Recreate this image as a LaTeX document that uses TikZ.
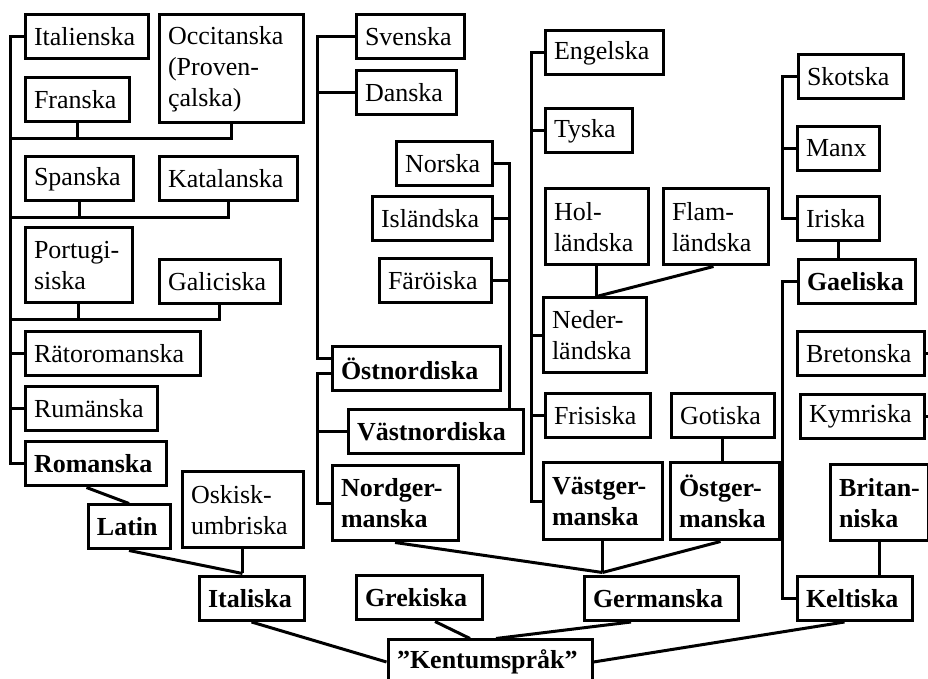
\documentclass[tikz,border=0pt]{standalone}
\usepackage{fontspec}
\setmainfont{Liberation Serif}
\hyphenpenalty=10000
\exhyphenpenalty=10000

\tikzset{
  langbox/.style 2 args={draw, line width=1.5pt, inner xsep=4.5pt, inner ysep=0pt,
    text width=#1, minimum height=#2, align=left, font=\fontsize{13}{15.5}\selectfont},
  stembox/.style 2 args={langbox={#1}{#2}, font=\fontsize{13}{15.5}\selectfont\bfseries},
  conn/.style={line width=1.5pt}
}

\begin{document}
\begin{tikzpicture}[x=0.5pt, y=-0.5pt]
                \useasboundingbox (0,0) rectangle (928,679);
                \clip (0,0) rectangle (928,679);

                % Romance languages
                \node[langbox={52.5pt}{22pt}] (ital) at (86.5,37) {Italienska};
                \node[langbox={63pt}{54pt}] (occ) at (231,69) {Occitanska\\(Proven-\\çalska)};
                \node[langbox={43pt}{22pt}] (fran) at (77,100) {Franska};
                \node[langbox={45pt}{22pt}] (span) at (79,179) {Spanska};
                \node[langbox={60pt}{22pt}] (kat) at (228,179) {Katalanska};
                \node[langbox={44.5pt}{37.5pt}] (port) at (78.5,265.5) {Portugi-\\siska};
                \node[langbox={51.5pt}{22pt}] (gal) at (219.5,282) {Galiciska};
                \node[langbox={78.5pt}{22pt}] (raeto) at (112.5,353.5) {Rätoromanska};
                \node[langbox={57pt}{22pt}] (ruman) at (91,408.5) {Rumänska};
                \node[stembox={61.5pt}{22pt}] (roman) at (95.5,464) {Romanska};
                \node[stembox={32pt}{22pt}] (latin) at (129,527) {Latin};
                \node[langbox={51.5pt}{38pt}] (osk) at (242.5,510) {Oskisk-\\umbriska};
                \node[stembox={43.5pt}{22pt}] (itali) at (251.5,598.5) {Italiska};

                \draw[conn] (ital.west) -- ++(-13,0) coordinate (rbar) |- (roman.west);
                \foreach \n in {raeto,ruman} \draw[conn] (\n.west) -- (\n.west -| rbar);
                \draw[conn] (occ.south) -- ++(0,14) coordinate (j1) -- (j1 -| rbar);
                \draw[conn] (fran.south) -- (fran.south |- j1);
                \draw[conn] (kat.south) -- ++(0,15) coordinate (j2) -- (j2 -| rbar);
                \draw[conn] (span.south) -- (span.south |- j2);
                \draw[conn] (gal.south) -- ++(0,14) coordinate (j3) -- (j3 -| rbar);
                \draw[conn] (port.south) -- (port.south |- j3);
                \draw[conn] (roman.south -| latin.west) -- (latin.north);
                \draw[conn] (osk.south) -- ++(0,24) coordinate (jit);
                \draw[conn] (latin.south) -- (jit);

                % North Germanic languages
                \node[langbox={45pt}{22pt}] (sven) at (410,37) {Svenska};
                \node[langbox={41pt}{22pt}] (dan) at (406,92.5) {Danska};
                \node[langbox={39pt}{22pt}] (nors) at (444,163.5) {Norska};
                \node[langbox={51pt}{22pt}] (isl) at (432,219) {Isländska};
                \node[langbox={47pt}{22pt}] (faro) at (435,280.5) {Färöiska};
                \node[stembox={75pt}{22pt}] (ostn) at (416,369) {Östnordiska};
                \node[stembox={78.5pt}{22pt}] (vastn) at (435.5,432) {Västnordiska};
                \node[stembox={54pt}{37.5pt}] (nordg) at (395,503.5) {Nordger-\\manska};
                \node[stembox={54pt}{22pt}] (grek) at (419,598) {Grekiska};

                \draw[conn] (sven.west) -- ++(-37,0) coordinate (nbar) |- ([yshift=5pt]ostn.west);
                \draw[conn] (dan.west) -- (dan.west -| nbar);
                \draw[conn] ([yshift=-2.5pt]ostn.west) -- ([yshift=-2.5pt]ostn.west -| nbar) |- (nordg.west);
                \draw[conn] (vastn.west) -- (vastn.west -| nbar);
                \draw[conn] (nors.east) -- ++(16,0) coordinate (wbar) -- (wbar |- vastn.north);
                \foreach \n in {isl,faro} \draw[conn] (\n.east) -- (\n.east -| wbar);

                % West and East Germanic languages
                \node[langbox={50pt}{22pt}] (eng) at (604,53) {Engelska};
                \node[langbox={34.5pt}{22pt}] (tysk) at (588.5,131) {Tyska};
                \node[langbox={42.5pt}{38pt}] (holl) at (596.5,227) {Hol-\\ländska};
                \node[langbox={43.5pt}{38pt}] (flam) at (715.5,227) {Flam-\\ländska};
                \node[langbox={42.5pt}{37.5pt}] (neder) at (594.5,335.5) {Neder-\\ländska};
                \node[langbox={43.5pt}{22pt}] (fris) at (597.5,416) {Frisiska};
                \node[langbox={42.5pt}{22pt}] (goti) at (722.5,416) {Gotiska};
                \node[stembox={50.5pt}{38.5pt}] (vastg) at (602.5,501.5) {Västger-\\manska};
                \node[stembox={45.5pt}{38.5pt}] (ostg) at (724.5,501.5) {Östger-\\manska};
                \node[stembox={68pt}{22pt}] (germ) at (661,598.5) {Germanska};

                \draw[conn] (eng.west) -- ++(-12,0) coordinate (gbar) |- (vastg.west);
                \foreach \n in {tysk,neder,fris} \draw[conn] (\n.west) -- (\n.west -| gbar);
                \draw[conn] (holl.south) -- (holl.south |- neder.north) coordinate (jnl);
                \draw[conn] ([xshift=-1pt]flam.south) -- (jnl);
                \draw[conn] (goti.south) -- (goti.south |- ostg.north);
                \draw[conn] (vastg.south) -- ++(0,31) coordinate (jger);
                \draw[conn] (nordg.south) -- (jger);
                \draw[conn] ([xshift=-2pt]ostg.south) -- (jger);

                % Celtic languages
                \node[langbox={43.5pt}{22pt}] (skot) at (850.5,76.5) {Skotska};
                \node[langbox={32pt}{22pt}] (manx) at (838,148.5) {Manx};
                \node[langbox={32pt}{22pt}] (iris) at (838,219) {Iriska};
                \node[stembox={49.5pt}{22pt}] (gael) at (856.5,281.5) {Gaeliska};
                \node[langbox={54.5pt}{22pt}] (bret) at (860.5,353.5) {Bretonska};
                \node[langbox={53pt}{22pt}] (kymr) at (862,416.5) {Kymriska};
                \node[stembox={40pt}{38pt}] (brit) at (879,503) {Britan-\\niska};
                \node[stembox={48.5pt}{22pt}] (kelt) at (854.5,598.5) {Keltiska};

                \draw[conn] (skot.west) -- ++(-14,0) coordinate (cbar) |- (iris.west);
                \draw[conn] (manx.west) -- (manx.west -| cbar);
                \draw[conn] (iris.south) -- (iris.south |- gael.north);
                \draw[conn] (gael.west) -- (gael.west -| cbar) |- (kelt.west);
                \draw[conn] (brit.south) -- (brit.south |- kelt.north);
                \coordinate (cedge) at (940,0);
                \draw[conn] (bret.east) -- (bret.east -| cedge);
                \draw[conn] (kymr.east) -- (kymr.east -| cedge);

                % Root
                \node[stembox={93pt}{22pt}] (kent) at (490,662) {”Kentumspråk”};
                \draw[conn] (itali.south) -- (kent.west);
                \draw[conn] ([xshift=8pt]grek.south) -- ([xshift=-10pt]kent.north);
                \draw[conn] ([xshift=-15pt]germ.south) -- ([xshift=3pt]kent.north);
                \draw[conn] ([xshift=-5pt]kelt.south) -- (kent.east);
\end{tikzpicture}
\end{document}
